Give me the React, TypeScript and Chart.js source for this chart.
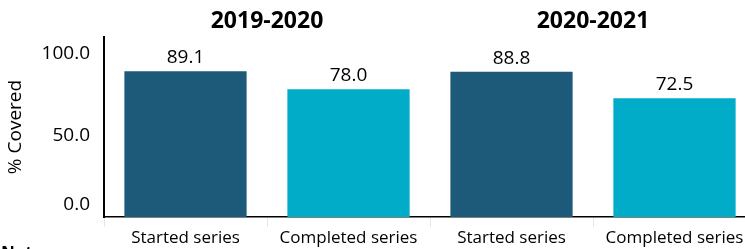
import React, { useEffect, useRef } from "react";
import { Chart, registerables } from "chart.js";

Chart.register(...registerables);

const categories = ["Started series", "Completed series", "Started series", "Completed series"];
const values = [89.1, 78.0, 88.8, 72.5];
const barColors = ["#1D5A79", "#00ACC8", "#1D5A79", "#00ACC8"];
const groupTitles = ["2019-2020", "2020-2021"];
const yTickValues = [0, 50, 100];

const FONT = "'Open Sans', sans-serif";

const overlayPlugin = {
  id: "overlay",
  afterDatasetsDraw(chart: any) {
    const ctx = chart.ctx;
    const meta = chart.getDatasetMeta(0);
    const xScale = chart.scales.x;
    ctx.save();
    ctx.fillStyle = "#000";
    ctx.font = `19px ${FONT}`;
    ctx.textAlign = "center";
    ctx.textBaseline = "bottom";
    meta.data.forEach((bar: any, i: number) => {
      ctx.fillText(values[i].toFixed(1), bar.x, bar.y - 4);
    });
    ctx.font = `bold 23px ${FONT}`;
    ctx.textBaseline = "middle";
    groupTitles.forEach((t, g) => {
      const x = (xScale.getPixelForValue(g * 2) + xScale.getPixelForValue(g * 2 + 1)) / 2;
      ctx.fillText(t, x, 13);
    });
    ctx.restore();
  },
};

export default function App() {
  const ref = useRef<HTMLCanvasElement>(null);
  useEffect(() => {
    if (!ref.current) return;
    const chart = new Chart(ref.current, {
      type: "bar",
      data: {
        labels: categories,
        datasets: [
          {
            data: values,
            backgroundColor: barColors,
            categoryPercentage: 1,
            barPercentage: 0.75,
          },
        ],
      },
      options: {
        animation: false,
        responsive: false,
        maintainAspectRatio: false,
        layout: { padding: { top: 29, right: 2, left: 0, bottom: 0 } },
        plugins: { legend: { display: false }, tooltip: { enabled: false } },
        scales: {
          x: {
            grid: {
              display: true,
              drawOnChartArea: false,
              drawTicks: true,
              tickLength: 10,
              color: "#e6e6e6",
              offset: true,
            },
            border: { display: true, color: "#000", width: 1.5 },
            ticks: {
              color: "#000",
              font: { family: FONT, size: 17 },
              padding: 1,
              maxRotation: 0,
              autoSkip: false,
            },
            afterFit: (s: any) => {
              s.height = 32;
              s.paddingLeft = 0;
              s.paddingRight = 0;
            },
          },
          y: {
            min: 0,
            max: 110,
            afterBuildTicks: (s: any) => {
              s.ticks = yTickValues.map((v) => ({ value: v }));
            },
            grid: { display: false, drawTicks: false },
            border: { display: true, color: "#000", width: 2 },
            ticks: {
              color: "#000",
              padding: 14,
              font: { family: FONT, size: 19, lineHeight: 1.26 },
              callback: (v: any) => (Number(v) === 0 ? ["0.0", ""] : Number(v).toFixed(1)),
            },
            title: {
              display: true,
              text: "% Covered",
              color: "#000",
              font: { family: FONT, size: 19, lineHeight: 0.8 },
              padding: 0,
            },
            afterFit: (s: any) => {
              s.width = 96;
              s.paddingTop = 0;
              s.paddingBottom = 0;
            },
          },
        },
      },
      plugins: [overlayPlugin],
    });
    return () => chart.destroy();
  }, []);

  return (
    <div
      style={{
        position: "fixed",
        left: 0,
        top: 0,
        width: 745,
        height: 249,
        overflow: "hidden",
        background: "#fff",
      }}
    >
      <canvas
        ref={ref}
        width={750}
        height={241}
        style={{ display: "block", position: "absolute", left: 8, top: 8 }}
      />
      <div
        style={{
          position: "absolute",
          left: 1,
          top: 245,
          fontFamily: FONT,
          fontWeight: "bold",
          fontSize: 17,
          lineHeight: "16px",
          color: "#000",
          whiteSpace: "nowrap",
        }}
      >
        Notes:
      </div>
    </div>
  );
}
